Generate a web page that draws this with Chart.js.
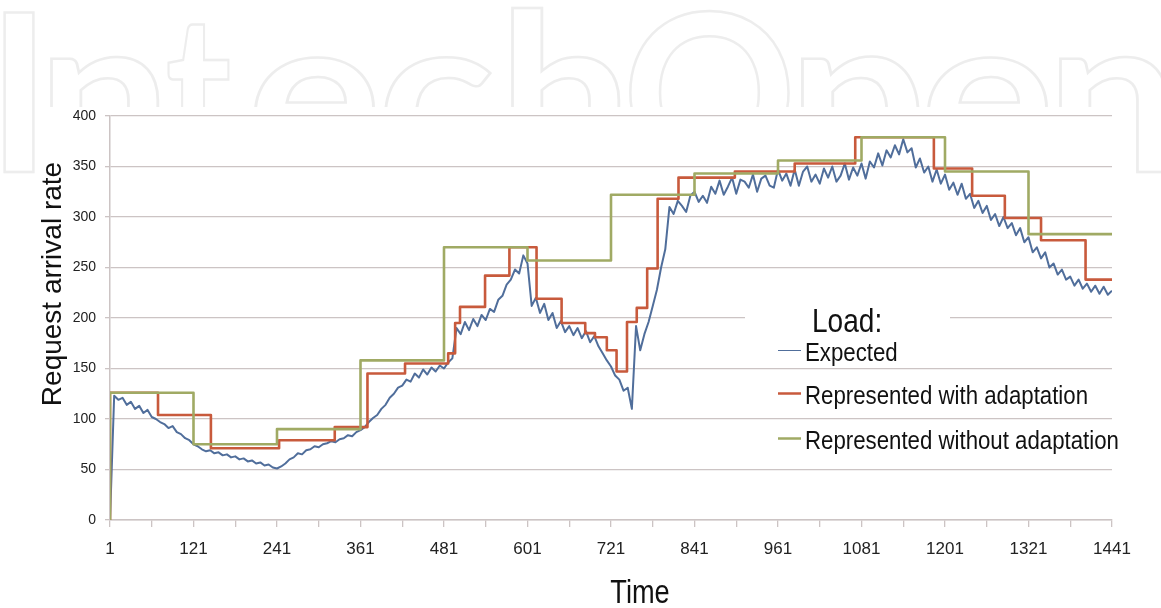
<!DOCTYPE html>
<html>
<head>
<meta charset="utf-8">
<title>Request arrival rate</title>
<script src="https://cdn.jsdelivr.net/npm/chart.js@4.4.1/dist/chart.umd.min.js"></script>
<style>
  html, body { margin: 0; padding: 0; background: #fff; }
  canvas { display: block; }
</style>
</head>
<body>
<canvas id="loadChart" width="1161" height="608"></canvas>
<script>
// x axis labels (minutes), minor tick halfway between each
const timeLabels = [1, 121, 241, 361, 481, 601, 721, 841, 961, 1081, 1201, 1321, 1441];
const yTicks = [0, 50, 100, 150, 200, 250, 300, 350, 400];

// expected load, one reading every 6 minutes starting at t = 1
const sampleEvery = 6;
const expectedLoad = [
  0, 123, 119, 121, 114, 117, 110, 113, 106, 109, 102, 100, 97, 95, 91, 93, 87, 85, 81, 79,
  75, 73, 70, 68, 69, 66, 67, 64, 65, 62, 63, 60, 61, 58, 59, 56, 57, 54, 55, 52,
  51, 53, 56, 60, 62, 66, 65, 69, 70, 73, 72, 75, 76, 78, 77, 80, 81, 84, 83, 87,
  89, 92, 97, 101, 104, 110, 114, 121, 125, 131, 133, 139, 137, 145, 141, 149, 144, 151, 147, 153,
  150, 156, 160, 190, 184, 196, 188, 199, 192, 203, 198, 209, 206, 218, 222, 233, 238, 248, 244, 262,
  254, 212, 220, 205, 214, 198, 205, 190, 197, 186, 192, 183, 190, 180, 187, 176, 182, 172, 165, 158,
  152, 143, 139, 128, 131, 110, 192, 168, 184, 196, 212, 228, 250, 268,
  310, 303, 316, 311, 305, 321, 325, 315, 321, 314, 330, 323, 336, 322, 330, 339, 323, 337, 335, 329,
  342, 325, 338, 341, 331, 329, 347, 336, 343, 331, 347, 331, 345, 350, 335, 342, 333, 348, 339, 350,
  335, 341, 353, 337, 349, 341, 353, 338, 355, 349, 363, 351, 366, 359, 371, 362, 377, 364, 368, 349,
  358, 344, 350, 335, 347, 333, 342, 327, 334, 322, 333, 318, 323, 309, 316, 304, 311, 297, 303, 291,
  300, 289, 294, 282, 289, 275, 280, 265, 270, 259, 265, 250, 254, 243, 248, 238, 241, 232, 238, 229,
  234, 226, 232, 224, 231, 223, 227
];

// represented load with adaptation: level changes
const adaptTimes  = [1, 1, 70, 146, 244, 324, 371, 425, 487, 497, 504, 540, 575, 614, 650, 684, 698, 715, 729, 744, 758, 773, 788, 818, 899, 985, 1072, 1185, 1240, 1287, 1339, 1403, 1441];
const adaptLevels = [0, 126, 104, 71, 79, 92, 145, 155, 165, 195, 211, 242, 270, 219, 195, 185, 181, 168, 147, 196, 210, 249, 318, 339, 345, 353, 379, 348, 321, 299, 277, 238, 238];

// represented load without adaptation: fixed 120 minute intervals
const fixedTimes  = [1, 1, 121, 241, 361, 481, 601, 721, 841, 961, 1081, 1201, 1321, 1441];
const fixedLevels = [0, 126, 75, 90, 158, 270, 257, 322, 343, 356, 379, 345, 283, 283];

const seriesNames = ['Expected', 'Represented with adaptation', 'Represented without adaptation'];
const seriesColors = ['#506E9B', '#C85A3C', '#A0AA64'];

const FONT = "'Liberation Sans', Arial, sans-serif";
const GRID = '#CCC4C4';

const pairs = (xs, ys) => xs.map((x, i) => ({ x: x, y: ys[i] }));
const expectedPoints = expectedLoad.map((v, i) => ({ x: 1 + i * sampleEvery, y: v }));

// Arial-like text squeezed sideways to look like the narrow face of the original
function narrowText(c, text, x, y, size, squeeze, align) {
  c.save();
  c.font = size + 'px ' + FONT;
  c.textBaseline = 'alphabetic';
  c.textAlign = 'left';
  const w = c.measureText(text).width * squeeze;
  let left = x;
  if (align === 'center') left = x - w / 2;
  c.translate(left, y);
  c.scale(squeeze, 1);
  c.fillText(text, 0, 0);
  c.restore();
}

// white page, faint publisher watermark behind the chart
const wmLetters = 'IntechOpen'.split('');
const wmLeft  = [4, 51, 168, 255, 385, 512, 630, 802, 928, 1060];
const wmWidth = [30, 107, 63, 119, 107, 107, 159, 117, 119, 107];
const backdrop = {
  id: 'backdrop',
  beforeDraw(chart) {
    const c = chart.ctx;
    c.save();
    c.fillStyle = '#fff';
    c.fillRect(0, 0, chart.width, chart.height);
    c.beginPath();
    c.rect(0, 0, chart.width, chart.height);
    c.rect(36, 107, 1100, 501);
    c.clip('evenodd');
    c.font = "bold 220px Lato, 'Open Sans', sans-serif";
    c.textBaseline = 'alphabetic';
    c.strokeStyle = '#ededed';
    c.lineWidth = 2.5;
    wmLetters.forEach((ch, i) => {
      const m = c.measureText(ch);
      const gw = m.actualBoundingBoxRight + m.actualBoundingBoxLeft;
      c.save();
      c.translate(wmLeft[i], 172);
      c.scale(wmWidth[i] / gw, 1);
      c.strokeText(ch, m.actualBoundingBoxLeft, 0);
      c.restore();
    });
    c.restore();
  }
};

// axis titles and the "Load:" legend
const labels = {
  id: 'labels',
  afterDraw(chart) {
    const c = chart.ctx;
    c.save();
    c.fillStyle = '#111';

    narrowText(c, 'Time', 640, 603, 34, 0.8, 'center');

    c.save();
    c.translate(61, 284);
    c.rotate(-Math.PI / 2);
    c.font = '28px ' + FONT;
    c.textAlign = 'center';
    c.fillText('Request arrival rate', 0, 0);
    c.restore();

    c.fillStyle = '#fff';
    c.fillRect(745, 298, 205, 40);
    c.fillStyle = '#111';
    narrowText(c, 'Load:', 812, 332, 33, 0.85, 'left');

    const rowY = [361, 404, 449];
    const widths = [1, 2.5, 2.5];
    chart.data.datasets.forEach((ds, i) => {
      c.strokeStyle = ds.borderColor;
      c.lineWidth = widths[i];
      c.beginPath();
      c.moveTo(778, rowY[i] - 10.5);
      c.lineTo(801, rowY[i] - 10.5);
      c.stroke();
      c.fillStyle = '#111';
      narrowText(c, ds.label, 805, rowY[i], 26, 0.855, 'left');
    });
    c.restore();
  }
};

const xTickValues = [];
timeLabels.forEach((t, i) => {
  xTickValues.push(t);
  if (i < timeLabels.length - 1) xTickValues.push((t + timeLabels[i + 1]) / 2);
});

new Chart(document.getElementById('loadChart'), {
  type: 'line',
  data: {
    datasets: [
      { label: seriesNames[0], data: expectedPoints, borderColor: seriesColors[0], borderWidth: 2, order: 2 },
      { label: seriesNames[1], data: pairs(adaptTimes, adaptLevels), borderColor: seriesColors[1], borderWidth: 2.6, stepped: true, order: 1 },
      { label: seriesNames[2], data: pairs(fixedTimes, fixedLevels), borderColor: seriesColors[2], borderWidth: 2.6, stepped: true, order: 0 }
    ]
  },
  options: {
    responsive: false,
    animation: false,
    layout: { padding: { top: 116, right: 49, left: 0, bottom: 0 } },
    elements: { point: { radius: 0 }, line: { tension: 0, borderJoinStyle: 'round' } },
    plugins: { legend: { display: false }, tooltip: { enabled: false } },
    scales: {
      x: {
        type: 'linear',
        min: 1,
        max: 1441,
        afterBuildTicks: s => { s.ticks = xTickValues.map(v => ({ value: v })); },
        afterFit: s => { s.height = 88; },
        ticks: {
          autoSkip: false,
          maxRotation: 0,
          padding: 12,
          color: '#222',
          font: { family: FONT, size: 17 },
          callback: v => (timeLabels.includes(v) ? String(v) : '')
        },
        grid: { drawOnChartArea: false, drawTicks: true, tickLength: 7, color: GRID, lineWidth: 1.3 },
        border: { color: GRID, width: 1.5 }
      },
      y: {
        min: 0,
        max: 400,
        afterBuildTicks: s => { s.ticks = yTicks.map(v => ({ value: v })); },
        afterFit: s => { s.width = 110; },
        ticks: { padding: 9, color: '#222', font: { family: FONT, size: 14 } },
        grid: { color: GRID, lineWidth: 1.3, tickLength: 5 },
        border: { color: GRID, width: 1.5 }
      }
    }
  },
  plugins: [backdrop, labels]
});
</script>
</body>
</html>
